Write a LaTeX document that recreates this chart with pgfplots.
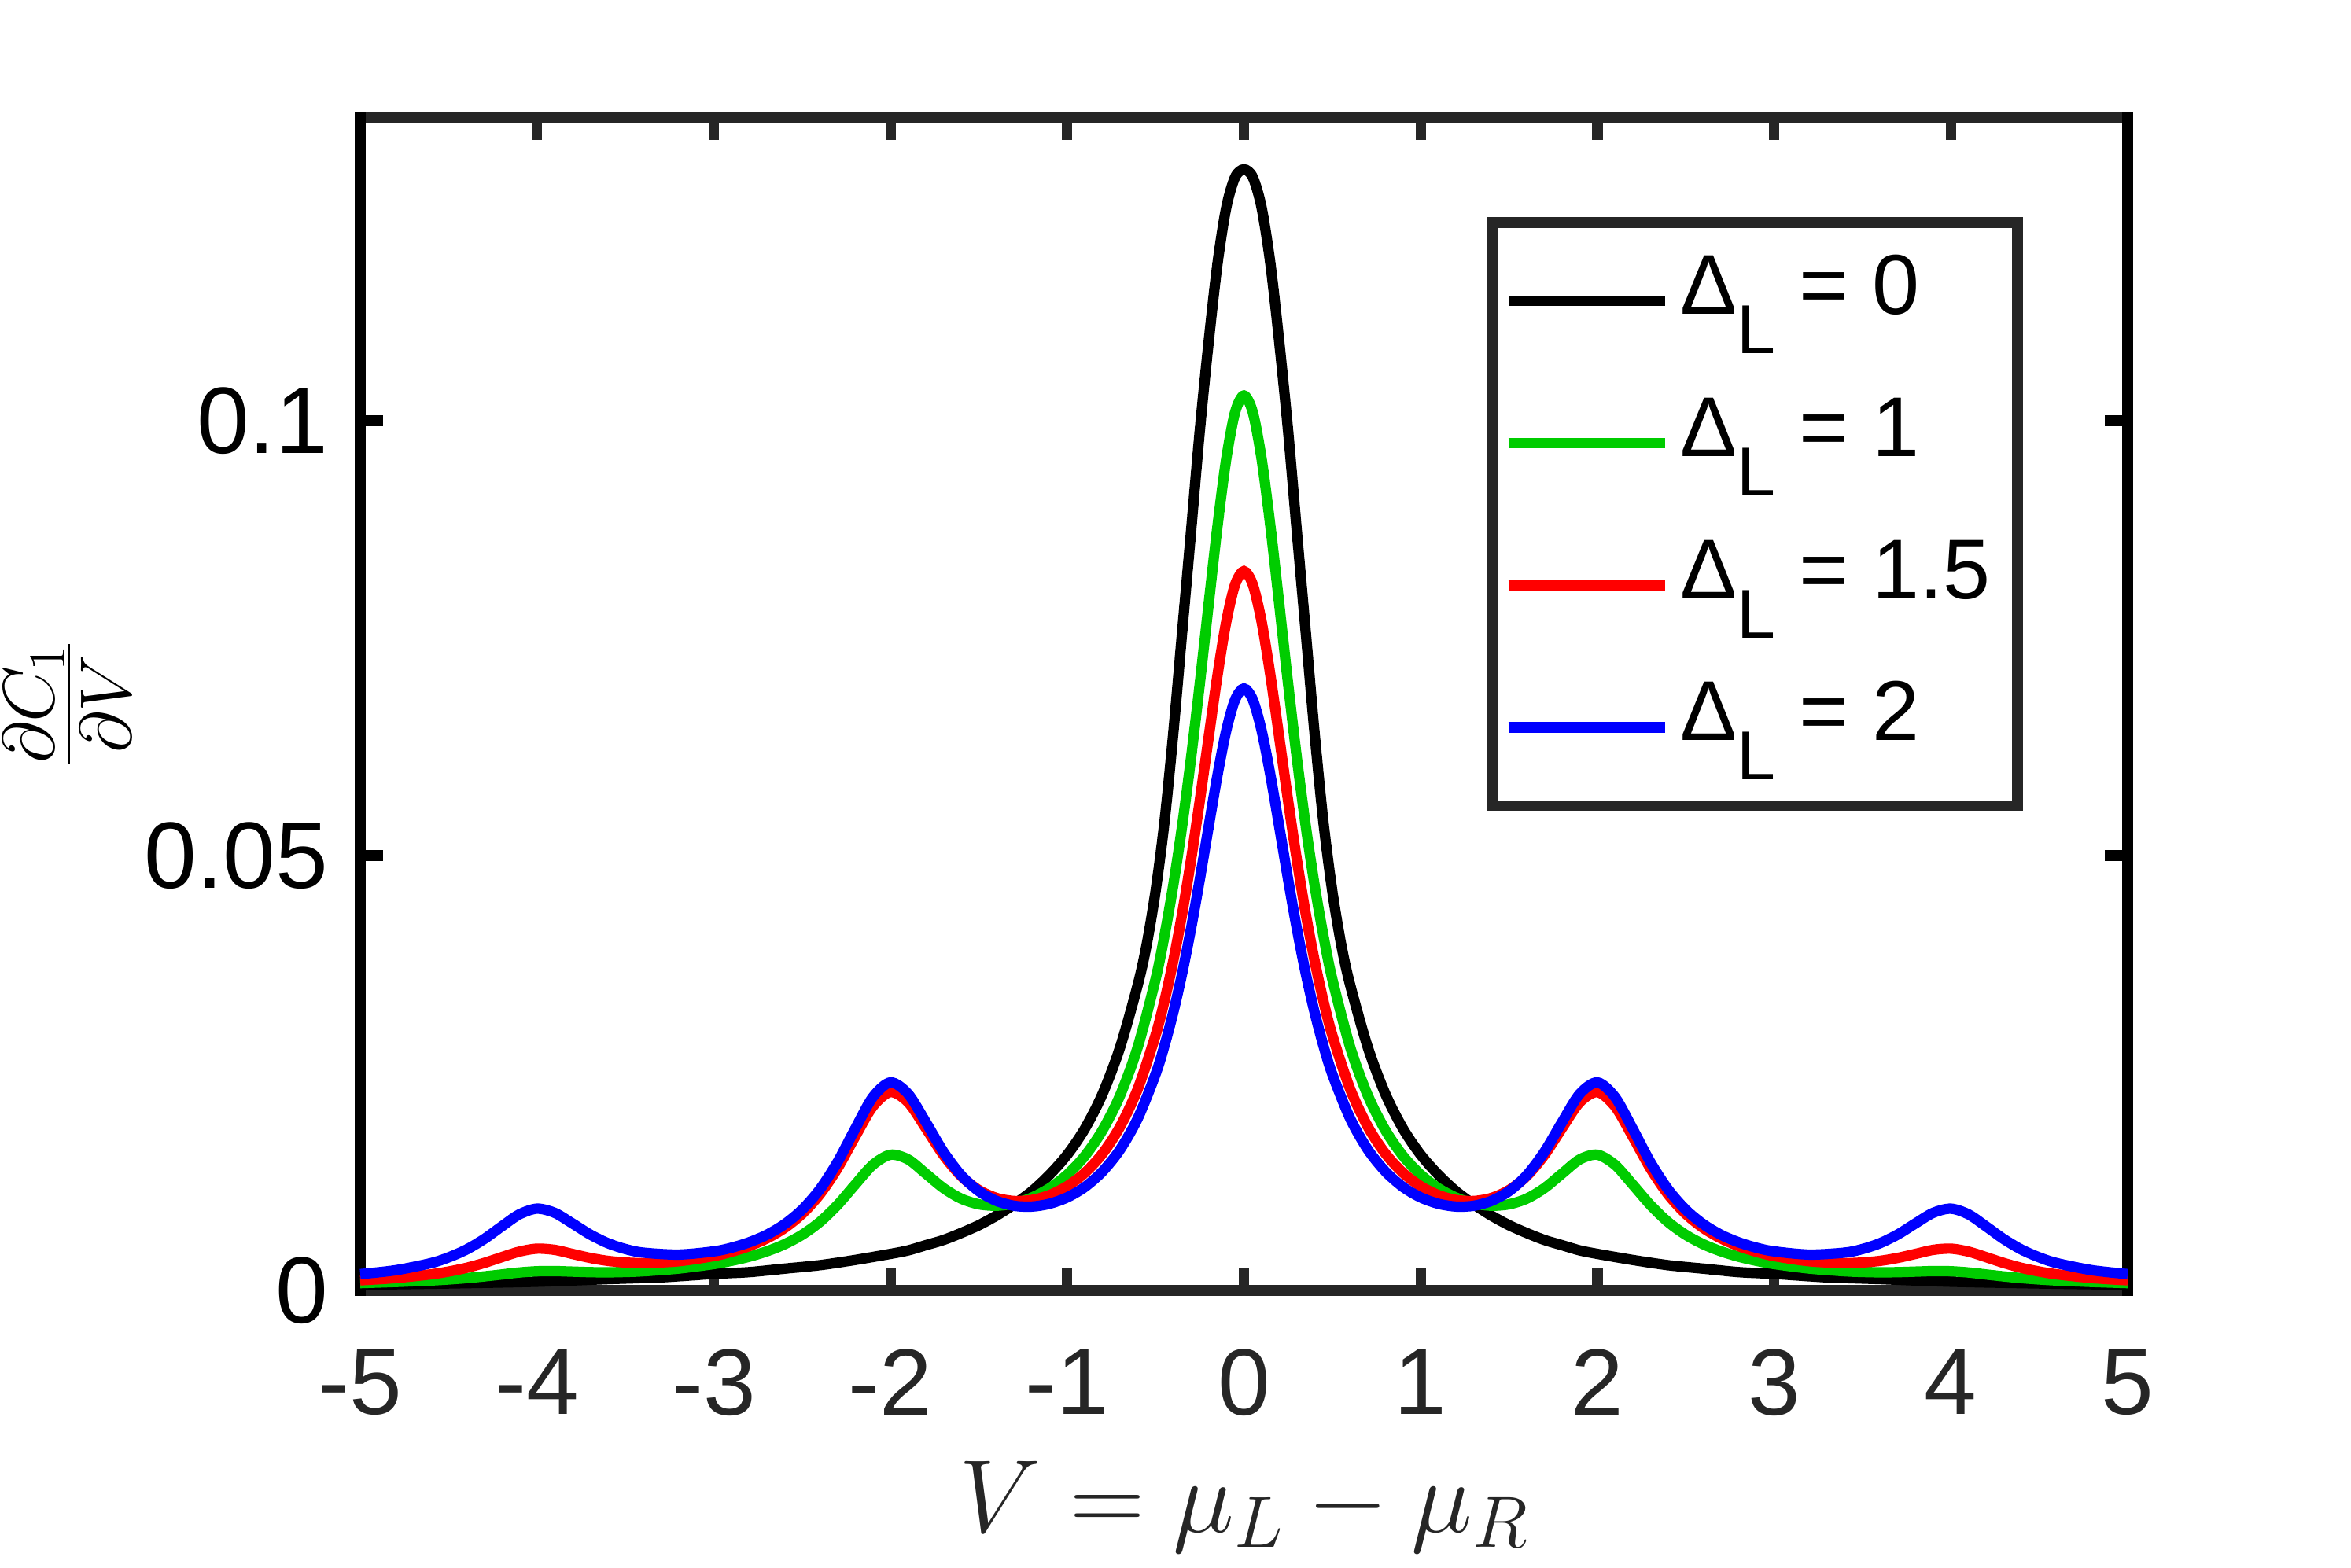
\RequirePackage{fix-cm}
\documentclass[border=0pt]{standalone}
\usepackage[no-math]{fontspec}
\setmainfont{Liberation Sans}
\usepackage{pgfplots}
\pgfplotsset{compat=1.18}
\definecolor{mgreen}{rgb}{0,0.8,0}
\definecolor{axgray}{rgb}{0.15,0.15,0.15}
\newcommand{\legentry}[1]{\raisebox{16.85pt}{\makebox[103.75pt][l]{\rule[-16.85pt]{0pt}{43.7pt}Δ\raisebox{-12.5pt}{\fontsize{22}{22}\selectfont L} = #1}}}
\begin{document}
\begin{tikzpicture}
\useasboundingbox (-114.5pt,-88pt) rectangle (632.75pt,410.25pt);
\begin{axis}[
  at={(0,0)}, anchor=south west,
  scale only axis, width=561.75pt, height=373pt,
  xmin=-5, xmax=5, ymin=0, ymax=0.1349,
  xtick={-5,-4,-3,-2,-1,0,1,2,3,4,5},
  xticklabels={-5,-4,-3,-2,-1,0,1,2,3,4,5},
  ytick={0,0.05,0.1}, yticklabels={0,0.05,0.1},
  tick align=inside, major tick length=7.2pt,
  separate axis lines,
  axis line style={line width=3.3pt, line cap=rect},
  x axis line style={draw=axgray},
  y axis line style={draw=black},
  xtick style={color=axgray, line width=3.3pt},
  ytick style={color=black, line width=3.3pt},
  xticklabel style={font=\fontsize{30}{36}\selectfont, text=axgray, yshift=-15.2pt},
  yticklabel style={font=\fontsize{30}{36}\selectfont, text=black, xshift=-6.7pt},
  xlabel={$V=\mu_L-\mu_R$},
  ylabel={$\frac{\partial C_1}{\partial V}$},
  every axis x label/.style={at={(axis description cs:0.5,-0.2058)}, anchor=base, font=\fontsize{33}{40}\selectfont, text=axgray},
  every axis y label/.style={at={(axis description cs:-0.1658,0.5)}, anchor=center, rotate=90, font=\fontsize{33}{40}\selectfont, text=black},
  clip=false,
  legend cell align=left,
  legend image code/.code={\draw[#1] (0pt,0pt) -- (49.75pt,0pt);},
  legend style={at={(axis description cs:0.9377,0.9102)}, anchor=north east,
    draw=axgray, line width=3.3pt, fill=white, outer sep=0pt,
    inner xsep=3.35pt, inner ysep=2.3pt,
    row sep=0pt, column sep=3.35pt, font=\fontsize{27}{32}\selectfont,
    nodes={inner sep=0pt, anchor=west}},
]
\addplot[black, line width=3.3pt, smooth] table[x=x,y=y] {
x y
-5 0.00065
-4.5 0.0008
-4 0.0010
-3.6 0.0013
-3.3 0.0015
-3 0.0019
-2.8 0.0021
-2.6 0.0025
-2.4 0.0029
-2.2 0.0035
-2 0.0042
-1.9 0.0046
-1.8 0.0052
-1.7 0.0058
-1.6 0.0066
-1.5 0.0075
-1.4 0.0086
-1.3 0.0099
-1.2 0.0114
-1.1 0.0133
-1.0 0.0156
-0.9 0.0186
-0.8 0.0226
-0.7 0.0280
-0.6 0.0352
-0.55 0.0398
-0.5 0.0459
-0.45 0.0538
-0.4 0.0640
-0.35 0.0756
-0.3 0.0871
-0.25 0.0988
-0.2 0.1090
-0.15 0.1180
-0.1 0.1245
-0.05 0.1280
0 0.1289
0.05 0.1280
0.1 0.1245
0.15 0.1180
0.2 0.1090
0.25 0.0988
0.3 0.0871
0.35 0.0756
0.4 0.0640
0.45 0.0538
0.5 0.0459
0.55 0.0398
0.6 0.0352
0.7 0.0280
0.8 0.0226
0.9 0.0186
1.0 0.0156
1.1 0.0133
1.2 0.0114
1.3 0.0099
1.4 0.0086
1.5 0.0075
1.6 0.0066
1.7 0.0058
1.8 0.0052
1.9 0.0046
2 0.0042
2.2 0.0035
2.4 0.0029
2.6 0.0025
2.8 0.0021
3 0.0019
3.3 0.0015
3.6 0.0013
4 0.0010
4.5 0.0008
5 0.00065
};
\addlegendentry{\legentry{0}}
\addplot[mgreen, line width=3.3pt, smooth] table[x=x,y=y] {
x y
-5 0.00084
-4.8 0.00097
-4.6 0.00114
-4.5 0.00126
-4.4 0.00141
-4.3 0.00161
-4.2 0.00183
-4.1 0.00206
-4 0.00220
-3.9 0.00222
-3.8 0.00216
-3.7 0.00210
-3.6 0.00208
-3.5 0.00212
-3.4 0.00220
-3.2 0.00251
-3 0.00303
-2.9 0.00340
-2.8 0.00387
-2.7 0.00449
-2.6 0.00530
-2.5 0.00639
-2.4 0.00786
-2.3 0.00981
-2.2 0.01216
-2.1 0.01443
-2 0.01560
-1.9 0.01506
-1.8 0.01343
-1.7 0.01176
-1.6 0.01055
-1.5 0.00990
-1.4 0.00974
-1.3 0.01000
-1.2 0.01067
-1.1 0.01175
-1.0 0.01331
-0.9 0.01547
-0.8 0.01843
-0.7 0.02246
-0.6 0.02804
-0.5 0.03579
-0.45 0.04075
-0.4 0.04657
-0.35 0.05335
-0.3 0.06111
-0.25 0.06972
-0.2 0.07885
-0.15 0.08782
-0.1 0.09560
-0.05 0.10098
0 0.10290
0.05 0.10098
0.1 0.09560
0.15 0.08782
0.2 0.07885
0.25 0.06972
0.3 0.06111
0.35 0.05335
0.4 0.04657
0.45 0.04075
0.5 0.03579
0.6 0.02804
0.7 0.02246
0.8 0.01843
0.9 0.01547
1.0 0.01331
1.1 0.01175
1.2 0.01067
1.3 0.01000
1.4 0.00974
1.5 0.00990
1.6 0.01055
1.7 0.01176
1.8 0.01343
1.9 0.01506
2 0.01560
2.1 0.01443
2.2 0.01216
2.3 0.00981
2.4 0.00786
2.5 0.00639
2.6 0.00530
2.7 0.00449
2.8 0.00387
2.9 0.00340
3 0.00303
3.2 0.00251
3.4 0.00220
3.5 0.00212
3.6 0.00208
3.7 0.00210
3.8 0.00216
3.9 0.00222
4 0.00220
4.1 0.00206
4.2 0.00183
4.3 0.00161
4.4 0.00141
4.5 0.00126
4.6 0.00114
4.8 0.00097
5 0.00084
};
\addlegendentry{\legentry{1}}
\addplot[red, line width=3.3pt, smooth] table[x=x,y=y] {
x y
-5 0.00116
-4.8 0.00142
-4.6 0.00185
-4.5 0.00217
-4.4 0.00259
-4.3 0.00315
-4.2 0.00382
-4.1 0.00446
-4 0.00480
-3.9 0.00466
-3.8 0.00420
-3.7 0.00374
-3.6 0.00340
-3.5 0.00321
-3.4 0.00315
-3.2 0.00335
-3 0.00395
-2.9 0.00444
-2.8 0.00509
-2.7 0.00597
-2.6 0.00716
-2.5 0.00879
-2.4 0.01103
-2.3 0.01402
-2.2 0.01767
-2.1 0.02114
-2 0.02280
-1.9 0.02163
-1.8 0.01866
-1.7 0.01556
-1.6 0.01314
-1.5 0.01154
-1.4 0.01063
-1.3 0.01028
-1.2 0.01040
-1.1 0.01096
-1.0 0.01198
-0.9 0.01352
-0.8 0.01574
-0.7 0.01886
-0.6 0.02321
-0.5 0.02934
-0.45 0.03326
-0.4 0.03788
-0.35 0.04326
-0.3 0.04943
-0.25 0.05628
-0.2 0.06354
-0.15 0.07068
-0.1 0.07688
-0.05 0.08116
0 0.08270
0.05 0.08116
0.1 0.07688
0.15 0.07068
0.2 0.06354
0.25 0.05628
0.3 0.04943
0.35 0.04326
0.4 0.03788
0.45 0.03326
0.5 0.02934
0.6 0.02321
0.7 0.01886
0.8 0.01574
0.9 0.01352
1.0 0.01198
1.1 0.01096
1.2 0.01040
1.3 0.01028
1.4 0.01063
1.5 0.01154
1.6 0.01314
1.7 0.01556
1.8 0.01866
1.9 0.02163
2 0.02280
2.1 0.02114
2.2 0.01767
2.3 0.01402
2.4 0.01103
2.5 0.00879
2.6 0.00716
2.7 0.00597
2.8 0.00509
2.9 0.00444
3 0.00395
3.2 0.00335
3.4 0.00315
3.5 0.00321
3.6 0.00340
3.7 0.00374
3.8 0.00420
3.9 0.00466
4 0.00480
4.1 0.00446
4.2 0.00382
4.3 0.00315
4.4 0.00259
4.5 0.00217
4.6 0.00185
4.8 0.00142
5 0.00116
};
\addlegendentry{\legentry{1.5}}
\addplot[blue, line width=3.3pt, smooth] table[x=x,y=y] {
x y
-5 0.00188
-4.8 0.00232
-4.6 0.00314
-4.5 0.00380
-4.4 0.00469
-4.3 0.00589
-4.2 0.00735
-4.1 0.00874
-4 0.00940
-3.9 0.00892
-3.8 0.00771
-3.7 0.00644
-3.6 0.00544
-3.5 0.00476
-3.4 0.00435
-3.2 0.00412
-3 0.00449
-2.9 0.00491
-2.8 0.00553
-2.7 0.00639
-2.6 0.00760
-2.5 0.00928
-2.4 0.01161
-2.3 0.01474
-2.2 0.01857
-2.1 0.02222
-2 0.02392
-1.9 0.02260
-1.8 0.01935
-1.7 0.01593
-1.6 0.01324
-1.5 0.01141
-1.4 0.01029
-1.3 0.00973
-1.2 0.00964
-1.1 0.00996
-1.0 0.01069
-0.9 0.01189
-0.8 0.01368
-0.7 0.01622
-0.6 0.01981
-0.5 0.02486
-0.45 0.02812
-0.4 0.03195
-0.35 0.03642
-0.3 0.04154
-0.25 0.04724
-0.2 0.05328
-0.15 0.05921
-0.1 0.06437
-0.05 0.06793
0 0.06921
0.05 0.06793
0.1 0.06437
0.15 0.05921
0.2 0.05328
0.25 0.04724
0.3 0.04154
0.35 0.03642
0.4 0.03195
0.45 0.02812
0.5 0.02486
0.6 0.01981
0.7 0.01622
0.8 0.01368
0.9 0.01189
1.0 0.01069
1.1 0.00996
1.2 0.00964
1.3 0.00973
1.4 0.01029
1.5 0.01141
1.6 0.01324
1.7 0.01593
1.8 0.01935
1.9 0.02260
2 0.02392
2.1 0.02222
2.2 0.01857
2.3 0.01474
2.4 0.01161
2.5 0.00928
2.6 0.00760
2.7 0.00639
2.8 0.00553
2.9 0.00491
3 0.00449
3.2 0.00412
3.4 0.00435
3.5 0.00476
3.6 0.00544
3.7 0.00644
3.8 0.00771
3.9 0.00892
4 0.00940
4.1 0.00874
4.2 0.00735
4.3 0.00589
4.4 0.00469
4.5 0.00380
4.6 0.00314
4.8 0.00232
5 0.00188
};
\addlegendentry{\legentry{2}}
\end{axis}
\end{tikzpicture}
\end{document}
